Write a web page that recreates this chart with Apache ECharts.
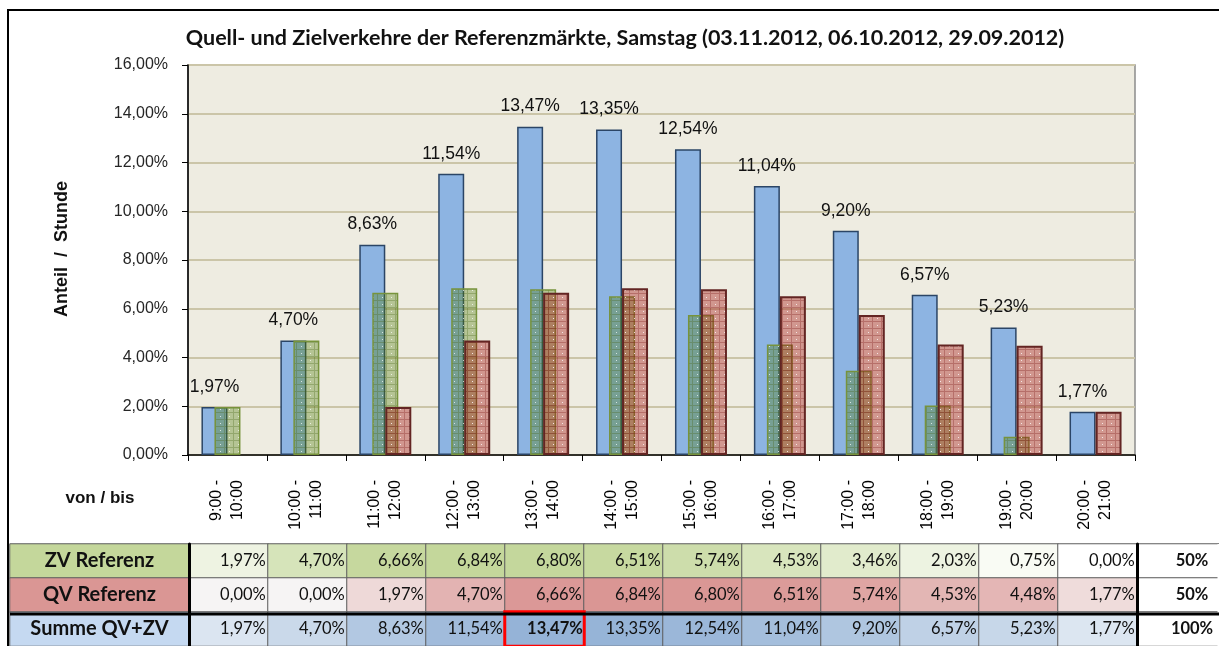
<!DOCTYPE html>
<html><head><meta charset="utf-8">
<script src="https://cdn.jsdelivr.net/npm/echarts@6/dist/echarts.min.js"></script>
<style>html,body{margin:0;padding:0;background:#fff}#c{width:1219px;height:646px}</style>
</head><body><div id="c"></div>
<script>
const categories = ['9:00 -\n10:00','10:00 -\n11:00','11:00 -\n12:00','12:00 -\n13:00','13:00 -\n14:00','14:00 -\n15:00','15:00 -\n16:00','16:00 -\n17:00','17:00 -\n18:00','18:00 -\n19:00','19:00 -\n20:00','20:00 -\n21:00'];
const zvValues  = [1.97, 4.70, 6.66, 6.84, 6.80, 6.51, 5.74, 4.53, 3.46, 2.03, 0.75, 0.00];
const qvValues  = [0.00, 0.00, 1.97, 4.70, 6.66, 6.84, 6.80, 6.51, 5.74, 4.53, 4.48, 1.77];
const sumValues = [1.97, 4.70, 8.63, 11.54, 13.47, 13.35, 12.54, 11.04, 9.20, 6.57, 5.23, 1.77];
const yMin = 0, yMax = 16, yInterval = 2;
const rowLabels = ['ZV Referenz', 'QV Referenz', 'Summe QV+ZV'];
const rowTotals = ['50%', '50%', '100%'];
const highlightIndex = 4;

const fmt = v => v.toFixed(2).replace('.', ',') + '%';
const LAT = 'Lato, "Open Sans", sans-serif';
const ARI = '"Liberation Sans", Arial, sans-serif';

function makePattern(fill, line, dot) {
  const c = document.createElement('canvas');
  c.width = 9; c.height = 7;
  const g = c.getContext('2d');
  g.fillStyle = fill; g.fillRect(0, 0, 9, 7);
  g.fillStyle = line; g.fillRect(0, 6, 9, 1); g.fillRect(8, 0, 1, 6);
  g.fillStyle = dot; g.fillRect(4, 3, 1, 1);
  return { image: c, repeat: 'repeat' };
}
const greenPat = makePattern('rgba(80,125,10,0.36)', 'rgba(70,100,20,0.30)', 'rgba(255,255,255,0.7)');
const redPat = makePattern('rgba(165,25,20,0.40)', 'rgba(120,20,20,0.30)', 'rgba(255,255,255,0.75)');

const tableTop = 544, tableH = 105;
const nz = arr => arr.map(v => (v === 0 ? null : v));

const chart = echarts.init(document.getElementById('c'), null, { renderer: 'canvas' });

const heatRow = (vals, row) => {
  const d = vals.map((v, i) => ({ value: [i, row, v] }));
  if (row === 2) {
    const h = d.splice(highlightIndex, 1)[0];
    h.itemStyle = { borderColor: '#ff0000', borderWidth: 3 };
    h.label = { fontWeight: 'bold' };
    d.push(h);
  }
  return d;
};
const heatBase = (row, vals) => ({
  type: 'heatmap', xAxisIndex: 2, yAxisIndex: 2, silent: true,
  data: heatRow(vals, row),
  itemStyle: { borderColor: '#5e5e5e', borderWidth: 1 },
  label: { show: true, position: 'insideRight', distance: 3, formatter: p => fmt(p.value[2]),
           fontFamily: LAT, fontSize: 16.5, color: '#111' },
  emphasis: { disabled: true }
});

const option = {
  backgroundColor: '#ffffff',
  animation: false,
  title: {
    text: 'Quell- und Zielverkehre der Referenzmärkte, Samstag (03.11.2012, 06.10.2012, 29.09.2012)',
    left: 620, top: 22, textAlign: 'center',
    textStyle: { fontFamily: LAT, fontWeight: 'bold', fontSize: 21.5, color: '#111' }
  },
  grid: [
    { left: 188, top: 65, width: 947, height: 390, show: true, backgroundColor: '#eeece1', borderColor: '#8c8c8c', borderWidth: 1.5 },
    { left: 10, top: tableTop, width: 179, height: tableH },
    { left: 189, top: tableTop, width: 948, height: tableH },
    { left: 1137, top: tableTop, width: 110, height: tableH }
  ],
  xAxis: [
    { type: 'category', gridIndex: 0, data: categories,
      axisLine: { lineStyle: { color: '#000', width: 1.5 } },
      axisTick: { show: true, length: 6, lineStyle: { color: '#000' } },
      axisLabel: { rotate: 90, margin: 25, fontFamily: ARI, fontSize: 16, color: '#000', lineHeight: 21, interval: 0 } },
    { type: 'category', gridIndex: 1, data: ['h'], show: false },
    { type: 'category', gridIndex: 2, data: categories, show: false },
    { type: 'category', gridIndex: 3, data: ['t'], show: false }
  ],
  yAxis: [
    { type: 'value', gridIndex: 0, min: yMin, max: yMax, interval: yInterval,
      axisLine: { show: true, lineStyle: { color: '#000', width: 1.5 } },
      axisTick: { show: true, length: 6, lineStyle: { color: '#000' } },
      axisLabel: { margin: 20, formatter: v => fmt(v), fontFamily: ARI, fontSize: 16, color: '#262626' },
      splitLine: { lineStyle: { color: '#cbc5a8', width: 2 } } },
    { type: 'category', gridIndex: 1, data: rowLabels, inverse: true, show: false },
    { type: 'category', gridIndex: 2, data: rowLabels, inverse: true,
      axisLine: { show: true, lineStyle: { color: '#000', width: 3 } }, axisTick: { show: false }, axisLabel: { show: false }, z: 10 },
    { type: 'category', gridIndex: 3, data: rowLabels, inverse: true,
      axisLine: { show: true, lineStyle: { color: '#000', width: 3 } }, axisTick: { show: false }, axisLabel: { show: false }, z: 10 }
  ],
  visualMap: [
    { type: 'continuous', show: false, seriesIndex: 3, dimension: 2, min: 0, max: Math.max(...zvValues), inRange: { color: ['#ffffff', '#c4d79b'] } },
    { type: 'continuous', show: false, seriesIndex: 4, dimension: 2, min: 0, max: Math.max(...qvValues), inRange: { color: ['#f6f4f4', '#da9694'] } },
    { type: 'continuous', show: false, seriesIndex: 5, dimension: 2, min: Math.min(...sumValues), max: Math.max(...sumValues), inRange: { color: ['#dce6f1', '#95b3d7'] } }
  ],
  series: [
    { name: 'Summe QV+ZV', type: 'bar', data: nz(sumValues), barWidth: 26, barGap: '-50%',
      itemStyle: { color: '#8db4e2', borderColor: '#2b4566', borderWidth: 1.5 },
      label: { show: true, position: 'top', distance: 11, formatter: p => fmt(p.value), fontFamily: ARI, fontSize: 17.5, color: '#111' } },
    { name: 'ZV Referenz', type: 'bar', data: nz(zvValues), barWidth: 26, barGap: '-50%',
      itemStyle: { color: greenPat, borderColor: '#77933c', borderWidth: 1.5 } },
    { name: 'QV Referenz', type: 'bar', data: nz(qvValues), barWidth: 26, barGap: '-50%',
      itemStyle: { color: redPat, borderColor: '#632523', borderWidth: 2 } },
    heatBase(0, zvValues),
    heatBase(1, qvValues),
    heatBase(2, sumValues),
    { type: 'heatmap', xAxisIndex: 1, yAxisIndex: 1, silent: true,
      data: rowLabels.map((r, i) => ({ value: [0, i, i], itemStyle: { color: ['#c4d79b', '#da9694', '#c5d9f1'][i] } })),
      itemStyle: { borderColor: '#5e5e5e', borderWidth: 1 },
      label: { show: true, formatter: p => rowLabels[p.value[1]], fontFamily: LAT, fontWeight: 'bold', fontSize: 20, color: '#111' } },
    { type: 'heatmap', xAxisIndex: 3, yAxisIndex: 3, silent: true,
      data: rowTotals.map((t, i) => ({ value: [0, i, i], itemStyle: { color: '#ffffff' } })),
      itemStyle: { borderColor: '#5e5e5e', borderWidth: 1 },
      label: { show: true, formatter: p => rowTotals[p.value[1]], fontFamily: LAT, fontWeight: 'bold', fontSize: 16.5, color: '#111', offset: [14, 0] } }
  ],
  graphic: [
    { type: 'rect', shape: { x: 8, y: 10, width: 1400, height: 800 }, style: { fill: 'none', stroke: '#000', lineWidth: 2 }, z: 100 },
    { type: 'line', shape: { x1: 10, y1: tableTop + tableH * 2 / 3, x2: 1300, y2: tableTop + tableH * 2 / 3 }, style: { stroke: '#000', lineWidth: 3 }, z: 100 },
    { type: 'line', shape: { x1: 1218.5, y1: tableTop, x2: 1218.5, y2: 646 }, style: { stroke: '#ffffff', lineWidth: 2 }, z: 99 },
    { type: 'text', x: 62, y: 249, rotation: Math.PI / 2, style: { text: 'Anteil  /  Stunde', textAlign: 'center', textVerticalAlign: 'middle', font: 'bold 18px "Liberation Sans", Arial, sans-serif', fill: '#111' } },
    { type: 'text', x: 100, y: 498, style: { text: 'von / bis', textAlign: 'center', textVerticalAlign: 'middle', font: 'bold 17px "Liberation Sans", Arial, sans-serif', fill: '#111' } }
  ]
};
chart.setOption(option);
</script></body></html>
